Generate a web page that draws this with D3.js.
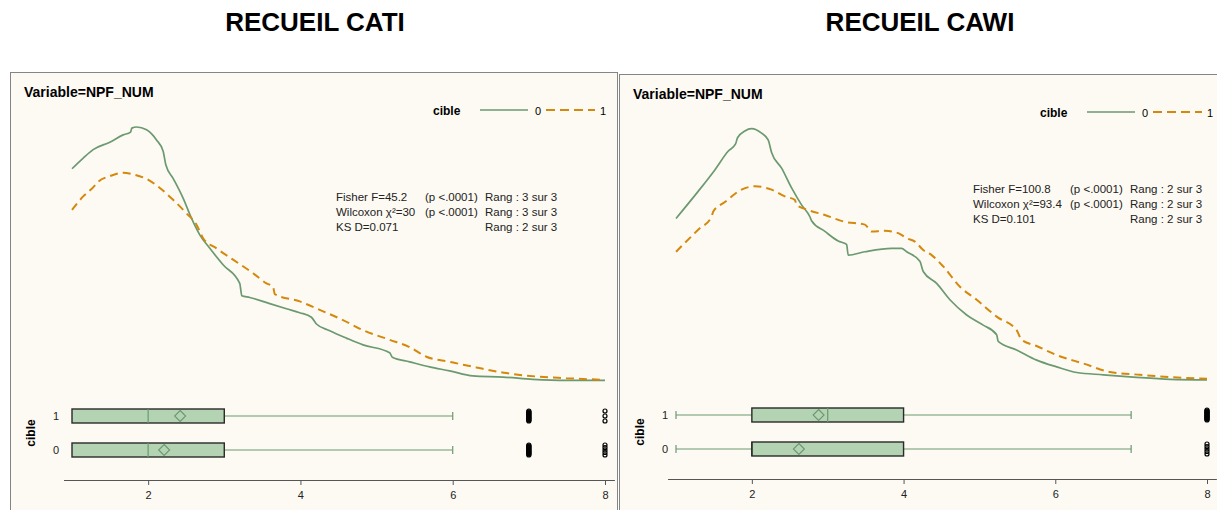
<!DOCTYPE html>
<html>
<head>
<meta charset="utf-8">
<script src="https://cdn.jsdelivr.net/npm/d3@7"></script>
<style>
  body { margin: 0; background: #fff; }
  svg { display: block; font-family: "Liberation Sans", Arial, sans-serif; }
</style>
</head>
<body>
<svg id="chart" width="1217" height="510"></svg>
<script>
/* Density + box plot panels, CATI vs CAWI */

const rowCats = ['1', '0'];
const xTicks = [2, 4, 6, 8];

// kernel density, [NPF_NUM, density]
const catiDens0 = [[1.0,0.376],[1.147,0.395],[1.278,0.41],[1.497,0.423],[1.672,0.436],[1.769,0.441],[1.786,0.448],[1.848,0.45],[1.979,0.445],[2.11,0.427],[2.197,0.407],[2.232,0.383],[2.328,0.359],[2.459,0.324],[2.57,0.288],[2.678,0.259],[2.81,0.235],[2.984,0.206],[3.203,0.173],[3.23,0.151],[3.335,0.148],[3.597,0.137],[3.816,0.128],[3.991,0.121],[4.144,0.113],[4.21,0.101],[4.385,0.089],[4.604,0.076],[4.822,0.064],[5.172,0.05],[5.207,0.042],[5.434,0.034],[5.697,0.025],[5.959,0.018],[6.265,0.009],[6.659,0.007],[7.052,0.003],[7.49,0.001],[8.0,0.001]];
const catiDens1 = [[1.0,0.303],[1.147,0.327],[1.278,0.343],[1.344,0.353],[1.497,0.363],[1.672,0.369],[1.803,0.366],[1.979,0.358],[2.154,0.342],[2.328,0.321],[2.504,0.297],[2.635,0.277],[2.722,0.253],[2.898,0.235],[3.115,0.215],[3.378,0.191],[3.554,0.173],[3.64,0.167],[3.663,0.154],[3.991,0.141],[4.253,0.126],[4.559,0.108],[4.822,0.09],[5.172,0.073],[5.434,0.06],[5.654,0.043],[5.959,0.034],[6.31,0.024],[6.703,0.014],[7.097,0.008],[7.49,0.005],[8.0,0.002]];
const cawiDens0 = [[1.0,0.288],[1.292,0.336],[1.512,0.374],[1.687,0.407],[1.785,0.42],[1.811,0.431],[1.908,0.443],[1.996,0.447],[2.128,0.439],[2.215,0.427],[2.26,0.405],[2.392,0.377],[2.524,0.342],[2.655,0.312],[2.765,0.291],[2.787,0.284],[2.963,0.265],[3.138,0.248],[3.249,0.242],[3.27,0.223],[3.49,0.229],[3.842,0.235],[3.974,0.235],[4.04,0.229],[4.215,0.212],[4.259,0.194],[4.436,0.173],[4.611,0.144],[4.832,0.117],[5.05,0.099],[5.227,0.082],[5.248,0.07],[5.49,0.055],[5.755,0.037],[6.018,0.025],[6.282,0.015],[6.633,0.011],[7.028,0.007],[7.512,0.003],[8.0,0.002]];
const cawiDens1 = [[1.0,0.229],[1.292,0.268],[1.469,0.291],[1.49,0.3],[1.644,0.317],[1.864,0.339],[2.04,0.345],[2.26,0.339],[2.435,0.327],[2.567,0.321],[2.589,0.312],[2.742,0.303],[2.963,0.294],[3.226,0.282],[3.49,0.277],[3.578,0.265],[3.754,0.266],[3.929,0.262],[4.04,0.253],[4.15,0.247],[4.259,0.232],[4.37,0.223],[4.523,0.203],[4.743,0.167],[4.963,0.144],[5.227,0.114],[5.49,0.09],[5.556,0.073],[5.754,0.062],[6.018,0.046],[6.369,0.031],[6.721,0.016],[7.117,0.011],[7.512,0.007],[8.0,0.004]];

const catiBox = [
  { cible: '1', min: 1, q1: 1, med: 2, q3: 3, max: 6, mean: 2.42 },
  { cible: '0', min: 1, q1: 1, med: 2, q3: 3, max: 6, mean: 2.21 }
];
const cawiBox = [
  { cible: '1', min: 1, q1: 2, med: 3, q3: 4, max: 7, mean: 2.88 },
  { cible: '0', min: 1, q1: 2, med: 2, q3: 4, max: 7, mean: 2.62 }
];

// n = how many overlapping markers are stacked at that value
const catiOutliers = [
  { cible: '1', value: 7, n: 14 }, { cible: '1', value: 8, n: 3 },
  { cible: '0', value: 7, n: 14 }, { cible: '0', value: 8, n: 5 }
];
const cawiOutliers = [
  { cible: '1', value: 8, n: 14 }, { cible: '0', value: 8, n: 5 }
];

const catiStats = [
  ['Fisher F=45.2', '(p <.0001)', 'Rang : 3 sur 3'],
  ['Wilcoxon χ²=30', '(p <.0001)', 'Rang : 3 sur 3'],
  ['KS D=0.071', '', 'Rang : 2 sur 3']
];
const cawiStats = [
  ['Fisher F=100.8', '(p <.0001)', 'Rang : 2 sur 3'],
  ['Wilcoxon χ²=93.4', '(p <.0001)', 'Rang : 2 sur 3'],
  ['KS D=0.101', '', 'Rang : 2 sur 3']
];

const GREEN = '#6b9970';
const ORANGE = '#d4880c';
const BOXFILL = '#b3d3b3';
const BG = '#fdfaf3';

const svg = d3.select('#chart');

const panels = [
  { title: 'RECUEIL CATI', titleX: 315, frame: [10, 72, 607], xr: [72, 605], axisY: 480,
    varY: 97, legendX: 433, legendY: 110, statsX: 336, statsY: 197, statCols: [0, 89, 149],
    band: [399, 467], dens0: catiDens0, dens1: catiDens1, box: catiBox, out: catiOutliers, stats: catiStats },
  { title: 'RECUEIL CAWI', titleX: 920, frame: [619, 74, 620], xr: [676, 1207], axisY: 479,
    varY: 99, legendX: 1040, legendY: 112, statsX: 973, statsY: 189, statCols: [0, 97, 157],
    band: [398, 466], dens0: cawiDens0, dens1: cawiDens1, box: cawiBox, out: cawiOutliers, stats: cawiStats }
];

panels.forEach(drawPanel);

function drawPanel(p) {
  const [fx, fy, fw] = p.frame;

  svg.append('text')
    .attr('x', p.titleX).attr('y', 31)
    .attr('text-anchor', 'middle')
    .attr('font-size', 26).attr('font-weight', 'bold')
    .text(p.title);

  const g = svg.append('g');

  g.append('rect')
    .attr('x', fx + 0.5).attr('y', fy + 0.5)
    .attr('width', fw).attr('height', 470)
    .attr('fill', BG).attr('stroke', '#858585');

  g.append('text')
    .attr('x', fx + 14).attr('y', p.varY)
    .attr('font-size', 14).attr('font-weight', 'bold')
    .text('Variable=NPF_NUM');

  // legend
  const lg = g.append('g').attr('transform', `translate(${p.legendX},${p.legendY})`);
  lg.append('text').attr('x', 0).attr('y', 4.5)
    .attr('font-size', 12).attr('font-weight', 'bold').text('cible');
  lg.append('line').attr('x1', 47).attr('x2', 95).attr('y1', 0).attr('y2', 0)
    .attr('stroke', GREEN).attr('stroke-width', 1.6);
  lg.append('text').attr('x', 102).attr('y', 4.5).attr('font-size', 11).text('0');
  lg.append('line').attr('x1', 113).attr('x2', 162).attr('y1', 0).attr('y2', 0)
    .attr('stroke', ORANGE).attr('stroke-width', 2).attr('stroke-dasharray', '9,5');
  lg.append('text').attr('x', 167).attr('y', 4.5).attr('font-size', 11).text('1');

  // stats block
  const st = g.append('g').attr('font-size', 11.5).attr('fill', '#222');
  p.stats.forEach((row, i) => {
    row.forEach((txt, j) => {
      if (!txt) return;
      st.append('text')
        .attr('x', p.statsX + p.statCols[j]).attr('y', p.statsY + i * 15 + 4)
        .text(txt);
    });
  });

  // density curves
  const x = d3.scaleLinear().domain([1, 8]).range(p.xr);
  const y = d3.scaleLinear().domain([0, 0.45]).range([381, 127]);
  const line = d3.line().x(d => x(d[0])).y(d => y(d[1])).curve(d3.curveMonotoneX);

  g.append('path').datum(p.dens0)
    .attr('d', line).attr('fill', 'none')
    .attr('stroke', GREEN).attr('stroke-width', 1.7).attr('stroke-linejoin', 'round');
  g.append('path').datum(p.dens1)
    .attr('d', line).attr('fill', 'none')
    .attr('stroke', ORANGE).attr('stroke-width', 2).attr('stroke-dasharray', '8,5');

  // box plots
  const band = d3.scaleBand().domain(rowCats).range(p.band);
  const cy = c => band(c) + band.bandwidth() / 2;
  const bh = 7;

  p.box.forEach(b => {
    const c = cy(b.cible);
    const bg = g.append('g');
    if (b.min < b.q1) {
      bg.append('line').attr('x1', x(b.min)).attr('x2', x(b.q1)).attr('y1', c).attr('y2', c)
        .attr('stroke', GREEN).attr('stroke-width', 1.2);
      bg.append('line').attr('x1', x(b.min)).attr('x2', x(b.min)).attr('y1', c - 4).attr('y2', c + 4)
        .attr('stroke', GREEN).attr('stroke-width', 1.2);
    }
    if (b.max > b.q3) {
      bg.append('line').attr('x1', x(b.q3)).attr('x2', x(b.max)).attr('y1', c).attr('y2', c)
        .attr('stroke', GREEN).attr('stroke-width', 1.2);
      bg.append('line').attr('x1', x(b.max)).attr('x2', x(b.max)).attr('y1', c - 4).attr('y2', c + 4)
        .attr('stroke', GREEN).attr('stroke-width', 1.2);
    }
    bg.append('rect')
      .attr('x', x(b.q1)).attr('y', c - bh)
      .attr('width', x(b.q3) - x(b.q1)).attr('height', bh * 2)
      .attr('fill', BOXFILL).attr('stroke', '#2a2a2a').attr('stroke-width', 1.4);
    bg.append('line').attr('x1', x(b.med)).attr('x2', x(b.med)).attr('y1', c - bh).attr('y2', c + bh)
      .attr('stroke', b.med === b.q1 ? '#2a2a2a' : GREEN).attr('stroke-width', 1.2);
    const m = x(b.mean), s = 5.5;
    bg.append('path')
      .attr('d', `M${m},${c - s}L${m + s},${c}L${m},${c + s}L${m - s},${c}Z`)
      .attr('fill', 'none').attr('stroke', GREEN).attr('stroke-width', 1.1);
  });

  // outliers: stacked circles
  p.out.forEach(o => {
    const c = cy(o.cible);
    d3.range(o.n).forEach(i => {
      const off = o.n > 1 ? -5 + i * 10 / (o.n - 1) : 0;
      g.append('circle')
        .attr('cx', x(o.value)).attr('cy', c + off).attr('r', 2)
        .attr('fill', 'none').attr('stroke', '#000').attr('stroke-width', 1.2);
    });
  });

  // row labels
  rowCats.forEach(c => {
    g.append('text')
      .attr('x', fx + 49).attr('y', cy(c) + 4)
      .attr('text-anchor', 'end').attr('font-size', 11).attr('fill', '#222')
      .text(c);
  });
  g.append('text')
    .attr('transform', `translate(${fx + 25},${(p.band[0] + p.band[1]) / 2}) rotate(-90)`)
    .attr('text-anchor', 'middle')
    .attr('font-size', 12).attr('font-weight', 'bold')
    .text('cible');

  // x axis
  const ax = g.append('g')
    .attr('transform', `translate(0,${p.axisY})`)
    .call(d3.axisBottom(x).tickValues(xTicks).tickSize(5).tickPadding(6).tickFormat(d3.format('d')));
  ax.select('.domain')
    .attr('d', `M${x(0.895)},0.5H${x(8.13)}`)
    .attr('stroke', '#555');
  ax.selectAll('.tick line').attr('stroke', '#555');
  ax.selectAll('.tick text').attr('font-size', 11).attr('fill', '#222')
    .attr('font-family', '"Liberation Sans", Arial, sans-serif');
}
</script>
</body>
</html>
